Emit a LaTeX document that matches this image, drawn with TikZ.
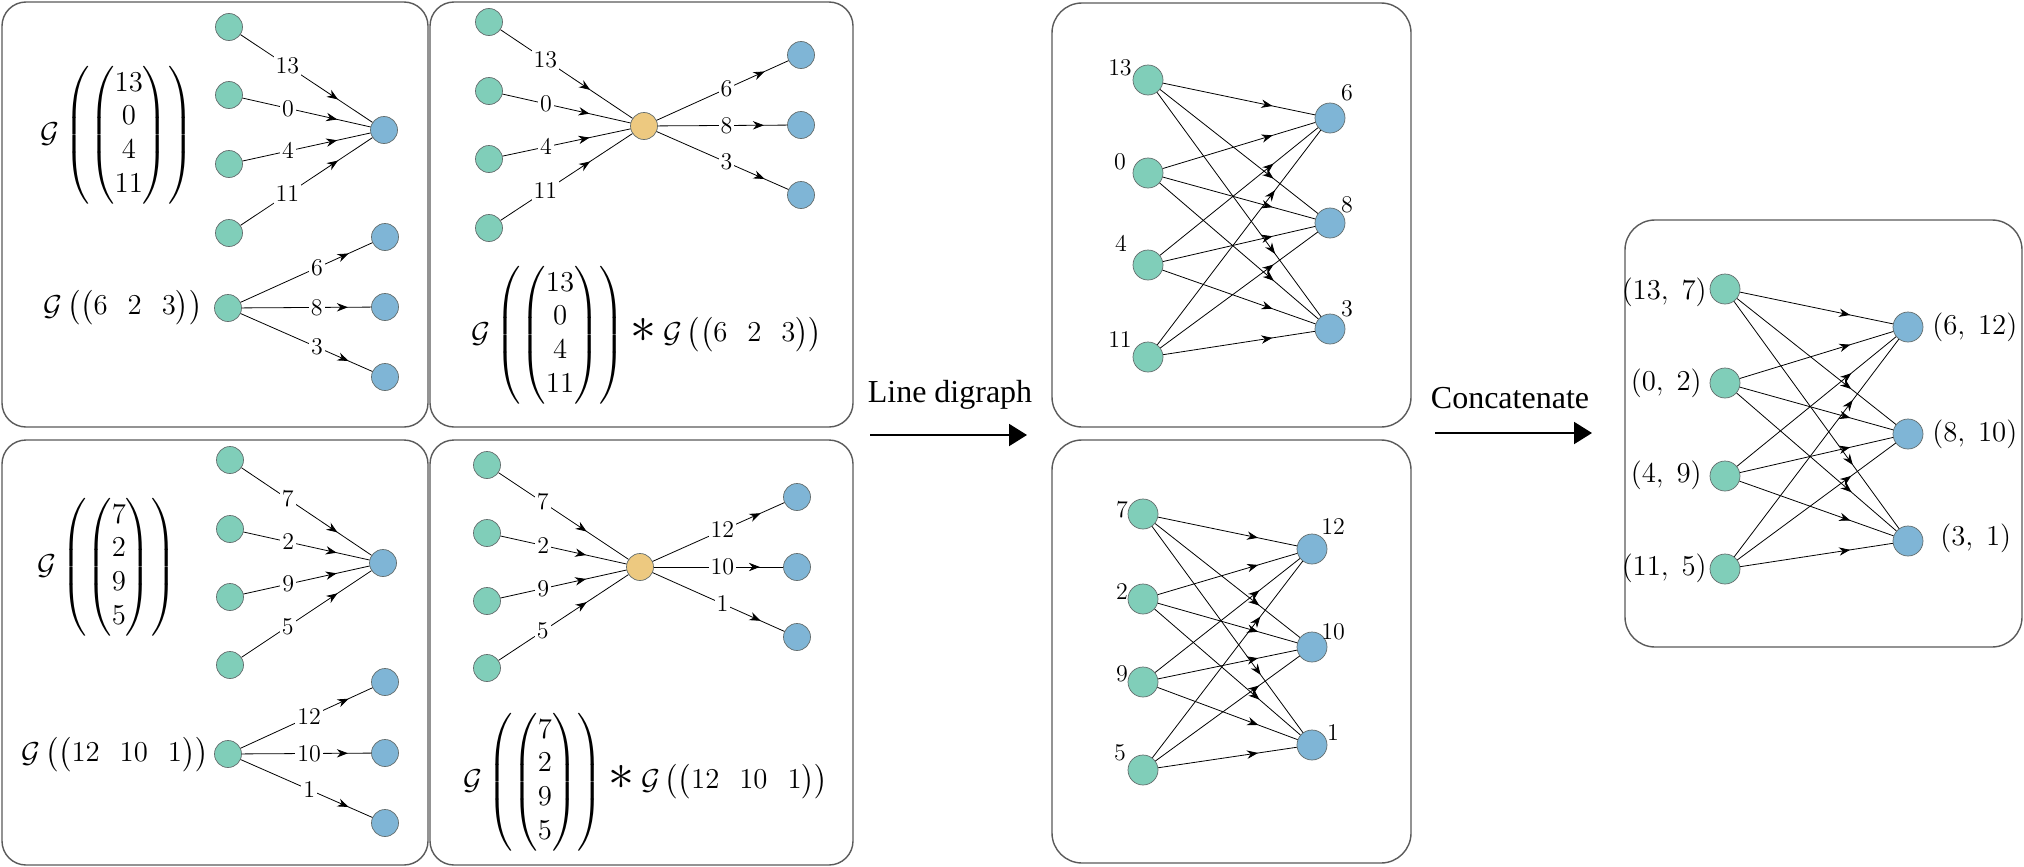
\documentclass[tikz,border=0pt]{standalone}
\usepackage{amsmath}
\usepackage{graphicx}
\usepackage{fontspec}
\newfontfamily\timesfont{Liberation Serif}
\usetikzlibrary{arrows.meta,decorations.markings}
\definecolor{cgreen}{RGB}{128,206,185}
\definecolor{cblue}{RGB}{127,181,214}
\definecolor{corange}{RGB}{237,201,128}
\definecolor{cnode}{RGB}{100,110,110}
\definecolor{cbox}{RGB}{90,90,90}
\newcommand{\bigast}{\mathbin{\text{\scalebox{1.8}{$\ast$}}}}
\begin{document}
\begin{tikzpicture}[x=0.5pt,y=-0.5pt,
  panel/.style={draw=cbox, line width=0.7pt, rounded corners=12pt},
  dpanel/.style={draw=cbox, line width=0.7pt, rounded corners=15pt},
  gnode/.style={circle, fill=cgreen, draw=cnode, line width=0.35pt, minimum size=13.5pt, inner sep=0pt},
  bnode/.style={circle, fill=cblue, draw=cnode, line width=0.35pt, minimum size=13.5pt, inner sep=0pt},
  onode/.style={circle, fill=corange, draw=cnode, line width=0.35pt, minimum size=13.5pt, inner sep=0pt},
  big/.style={minimum size=15pt},
  edge/.style={draw=black, line width=0.4pt},
  marr/.style={postaction={decorate, decoration={markings, mark=at position #1 with {\arrow{Stealth[length=5.5pt,width=4.2pt]}}}}},
  elabel/.style={fill=white, inner sep=1pt, font=\fontsize{12.5}{15}\selectfont},
  dlabel/.style={inner sep=0pt, font=\fontsize{12.5}{15}\selectfont},
  flabel/.style={inner sep=0pt, font=\fontsize{14}{16.8}\selectfont},
  formula/.style={inner sep=0pt, font=\fontsize{14}{16.8}\selectfont},
  bigarrow/.style={line width=1pt, -{Triangle[length=9pt,width=11pt]}},
  captxt/.style={inner sep=0pt, font=\timesfont\fontsize{16}{19}\selectfont}
]
\useasboundingbox (0,0) rectangle (2024,867);
\fill[white] (0,0) rectangle (2024,867);

% panels
\draw[panel] (2,2) rectangle (428,427);
\draw[panel] (430,2) rectangle (853,427);
\draw[panel] (2,440) rectangle (428,865);
\draw[panel] (430,440) rectangle (853,865);
\draw[dpanel] (1052,3) rectangle (1411,427);
\draw[dpanel] (1052,440) rectangle (1411,863);
\draw[dpanel] (1625,220) rectangle (2022,647);

% ---------- top-left ----------
\node[gnode] (TLg1) at (229,27) {};
\node[gnode] (TLg2) at (229,95) {};
\node[gnode] (TLg3) at (229,164) {};
\node[gnode] (TLg4) at (229,233) {};
\node[bnode] (TLb) at (384,130) {};
\foreach \i/\l in {1/13,2/0,3/4,4/11}
  \draw[edge,marr=0.74] (TLg\i) -- node[elabel,pos=0.355]{$\l$} (TLb);
\node[gnode] (TLs) at (228,308) {};
\node[bnode] (TLt1) at (385,237) {};
\node[bnode] (TLt2) at (385,307) {};
\node[bnode] (TLt3) at (385,377) {};
\foreach \i/\l in {1/6,2/8,3/3}
  \draw[edge,marr=0.82] (TLs) -- node[elabel,pos=0.58]{$\l$} (TLt\i);
\node[formula] (TLf1) at (117,135) {$\mathcal{G}\left(\begin{pmatrix}13\\0\\4\\11\end{pmatrix}\right)$};
\node[formula] (TLf2) at (123,308) {$\mathcal{G}\left(\begin{pmatrix}6 & 2 & 3\end{pmatrix}\right)$};

% ---------- top-middle ----------
\node[gnode] (TMg1) at (489,22) {};
\node[gnode] (TMg2) at (489,91) {};
\node[gnode] (TMg3) at (489,159) {};
\node[gnode] (TMg4) at (489,228) {};
\node[onode] (TMo) at (644,126) {};
\node[bnode] (TMb1) at (801,55) {};
\node[bnode] (TMb2) at (801,125) {};
\node[bnode] (TMb3) at (801,195) {};
\foreach \i/\l in {1/13,2/0,3/4,4/11}
  \draw[edge,marr=0.68] (TMg\i) -- node[elabel,pos=0.34]{$\l$} (TMo);
\foreach \i/\l in {1/6,2/8,3/3}
  \draw[edge,marr=0.82] (TMo) -- node[elabel,pos=0.53]{$\l$} (TMb\i);
\node[formula] (TMf) at (647,335) {$\mathcal{G}\left(\begin{pmatrix}13\\0\\4\\11\end{pmatrix}\right)\bigast\mathcal{G}\left(\begin{pmatrix}6 & 2 & 3\end{pmatrix}\right)$};

% ---------- bottom-left ----------
\node[gnode] (BLg1) at (230,460) {};
\node[gnode] (BLg2) at (230,529) {};
\node[gnode] (BLg3) at (230,597) {};
\node[gnode] (BLg4) at (230,665) {};
\node[bnode] (BLb) at (383,563) {};
\foreach \i/\l in {1/7,2/2,3/9,4/5}
  \draw[edge,marr=0.74] (BLg\i) -- node[elabel,pos=0.355]{$\l$} (BLb);
\node[gnode] (BLs) at (228,754) {};
\node[bnode] (BLt1) at (385,682) {};
\node[bnode] (BLt2) at (385,753) {};
\node[bnode] (BLt3) at (385,823) {};
\foreach \i/\l in {1/12,2/10,3/1}
  \draw[edge,marr=0.82] (BLs) -- node[elabel,pos=0.52]{$\l$} (BLt\i);
\node[formula] (BLf1) at (107,567) {$\mathcal{G}\left(\begin{pmatrix}7\\2\\9\\5\end{pmatrix}\right)$};
\node[formula] (BLf2) at (115,755) {$\mathcal{G}\left(\begin{pmatrix}12 & 10 & 1\end{pmatrix}\right)$};

% ---------- bottom-middle ----------
\node[gnode] (BMg1) at (487,465) {};
\node[gnode] (BMg2) at (487,533) {};
\node[gnode] (BMg3) at (487,601) {};
\node[gnode] (BMg4) at (487,668) {};
\node[onode] (BMo) at (640,567) {};
\node[bnode] (BMb1) at (797,497) {};
\node[bnode] (BMb2) at (797,567) {};
\node[bnode] (BMb3) at (797,637) {};
\foreach \i/\l in {1/7,2/2,3/9,4/5}
  \draw[edge,marr=0.68] (BMg\i) -- node[elabel,pos=0.34]{$\l$} (BMo);
\foreach \i/\l in {1/12,2/10,3/1}
  \draw[edge,marr=0.82] (BMo) -- node[elabel,pos=0.53]{$\l$} (BMb\i);
\node[formula] (BMf) at (646,782) {$\mathcal{G}\left(\begin{pmatrix}7\\2\\9\\5\end{pmatrix}\right)\bigast\mathcal{G}\left(\begin{pmatrix}12 & 10 & 1\end{pmatrix}\right)$};

% ---------- line digraph top ----------
\node[gnode,big] (DTg1) at (1148,80) {};
\node[gnode,big] (DTg2) at (1148,173) {};
\node[gnode,big] (DTg3) at (1148,265) {};
\node[gnode,big] (DTg4) at (1148,357) {};
\node[bnode,big] (DTb1) at (1330,118) {};
\node[bnode,big] (DTb2) at (1330,223) {};
\node[bnode,big] (DTb3) at (1330,329) {};
\foreach \i in {1,...,4}
  \foreach \j in {1,2,3}
    \draw[edge,marr=0.72] (DTg\i) -- (DTb\j);
\node[dlabel] (DTl1) at (1120,68) {$13$};
\node[dlabel] (DTl2) at (1120,162) {$0$};
\node[dlabel] (DTl3) at (1121,244) {$4$};
\node[dlabel] (DTl4) at (1120,340) {$11$};
\node[dlabel] (DTr1) at (1347,93) {$6$};
\node[dlabel] (DTr2) at (1347,205) {$8$};
\node[dlabel] (DTr3) at (1347,309) {$3$};

% ---------- line digraph bottom ----------
\node[gnode,big] (DBg1) at (1143,514) {};
\node[gnode,big] (DBg2) at (1143,599) {};
\node[gnode,big] (DBg3) at (1143,682) {};
\node[gnode,big] (DBg4) at (1143,770) {};
\node[bnode,big] (DBb1) at (1312,549) {};
\node[bnode,big] (DBb2) at (1312,647) {};
\node[bnode,big] (DBb3) at (1312,745) {};
\foreach \i in {1,...,4}
  \foreach \j in {1,2,3}
    \draw[edge,marr=0.72] (DBg\i) -- (DBb\j);
\node[dlabel] (DBl1) at (1122,510) {$7$};
\node[dlabel] (DBl2) at (1122,592) {$2$};
\node[dlabel] (DBl3) at (1122,674) {$9$};
\node[dlabel] (DBl4) at (1120,753) {$5$};
\node[dlabel] (DBr1) at (1333,527) {$12$};
\node[dlabel] (DBr2) at (1333,632) {$10$};
\node[dlabel] (DBr3) at (1333,733) {$1$};

% ---------- final ----------
\node[gnode,big] (Fg1) at (1725,289) {};
\node[gnode,big] (Fg2) at (1725,383) {};
\node[gnode,big] (Fg3) at (1725,476) {};
\node[gnode,big] (Fg4) at (1725,569) {};
\node[bnode,big] (Fb1) at (1908,327) {};
\node[bnode,big] (Fb2) at (1908,434) {};
\node[bnode,big] (Fb3) at (1908,541) {};
\foreach \i in {1,...,4}
  \foreach \j in {1,2,3}
    \draw[edge,marr=0.72] (Fg\i) -- (Fb\j);
\node[flabel, anchor=east] (Fl1) at (1707,292) {$(13,\;7)$};
\node[flabel, anchor=east] (Fl2) at (1702,383) {$(0,\;2)$};
\node[flabel, anchor=east] (Fl3) at (1702,475) {$(4,\;9)$};
\node[flabel, anchor=east] (Fl4) at (1707,568) {$(11,\;5)$};
\node[flabel, anchor=west] (Fr1) at (1932,327) {$(6,\;12)$};
\node[flabel, anchor=west] (Fr2) at (1932,434) {$(8,\;10)$};
\node[flabel, anchor=west] (Fr3) at (1940,538) {$(3,\;1)$};

% ---------- big arrows ----------
\coordinate (LDa) at (870,435);
\coordinate (LDb) at (1027,435);
\draw[bigarrow] (LDa) -- (LDb);
\node[captxt] (LDt) at (950,395) {Line digraph};
\coordinate (CCa) at (1435,433);
\coordinate (CCb) at (1592,433);
\draw[bigarrow] (CCa) -- (CCb);
\node[captxt] (CCt) at (1510,398) {Concatenate};
\end{tikzpicture}
\end{document}
